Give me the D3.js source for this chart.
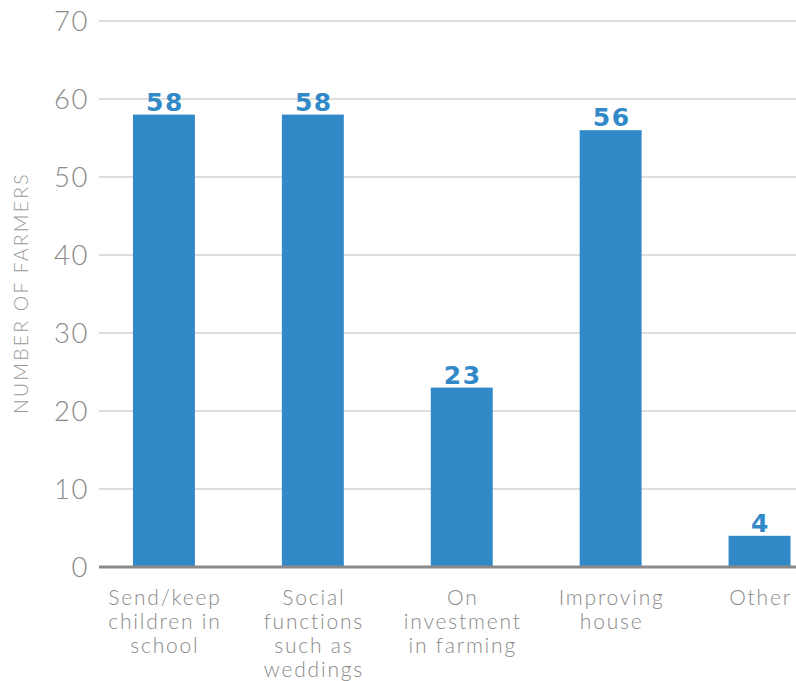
<!DOCTYPE html>
<html>
<head>
<meta charset="utf-8">
<script src="https://cdn.jsdelivr.net/npm/d3@7"></script>
<style>
  html, body { margin: 0; padding: 0; background: #fff; }
  svg { display: block; }
</style>
</head>
<body>
<svg id="chart" width="796" height="681"></svg>
<script>
// Uses of money, by number of farmers
const categories = [
  ["Send/keep", "children in", "school"],
  ["Social", "functions", "such as", "weddings"],
  ["On", "investment", "in farming"],
  ["Improving", "house"],
  ["Other"]
];
const values = [58, 58, 23, 56, 4];
const yTicks = [0, 10, 20, 30, 40, 50, 60, 70];
const yTitle = "NUMBER OF FARMERS";

const svg = d3.select("#chart");
const blue = "#3289c8";
const grey = "#8a8a8a";
const fontFamily = "Lato, 'Open Sans', 'DejaVu Sans', sans-serif";

const plot = { left: 99, right: 796, top: 21, bottom: 567 };

const y = d3.scaleLinear().domain([0, 70]).range([plot.bottom, plot.top]);
const x = d3.scaleBand()
  .domain(d3.range(values.length))
  .range([89.5, 834])
  .paddingInner(0.584)
  .paddingOuter(0.292);

// horizontal gridlines
svg.append("g")
  .selectAll("line")
  .data(yTicks.filter(t => t > 0))
  .join("line")
  .attr("x1", plot.left).attr("x2", plot.right)
  .attr("y1", d => y(d)).attr("y2", d => y(d))
  .attr("stroke", "#d3d3d3").attr("stroke-width", 1.5);

// y tick labels
svg.append("g")
  .selectAll("text")
  .data(yTicks)
  .join("text")
  .attr("x", 89)
  .attr("y", d => y(d))
  .attr("dy", "0.36em")
  .attr("text-anchor", "end")
  .attr("font-family", fontFamily)
  .attr("font-weight", 300)
  .attr("font-size", 27.5)
  .attr("letter-spacing", 1.5)
  .attr("fill", grey)
  .text(d => d);

// y axis title
svg.append("text")
  .attr("transform", `translate(28,293) rotate(-90)`)
  .attr("text-anchor", "middle")
  .attr("font-family", fontFamily)
  .attr("font-weight", 300)
  .attr("font-size", 19.5)
  .attr("letter-spacing", 2.2)
  .attr("fill", "#9a9a9a")
  .text(yTitle);

// bars
svg.append("g")
  .selectAll("rect")
  .data(values)
  .join("rect")
  .attr("x", (d, i) => x(i))
  .attr("width", x.bandwidth())
  .attr("y", d => y(d))
  .attr("height", d => y(0) - y(d))
  .attr("fill", blue);

// value labels
svg.append("g")
  .selectAll("text")
  .data(values)
  .join("text")
  .attr("x", (d, i) => x(i) + x.bandwidth() / 2 + 1)
  .attr("y", d => y(d) - 4)
  .attr("text-anchor", "middle")
  .attr("font-family", "'DejaVu Sans', sans-serif")
  .attr("font-weight", 700)
  .attr("font-size", 25)
  .attr("letter-spacing", 1.5)
  .attr("fill", blue)
  .text(d => d);

// baseline
svg.append("line")
  .attr("x1", plot.left).attr("x2", plot.right)
  .attr("y1", y(0)).attr("y2", y(0))
  .attr("stroke", grey).attr("stroke-width", 3);

// category labels
const cat = svg.append("g")
  .selectAll("text")
  .data(categories)
  .join("text")
  .attr("x", (d, i) => x(i) + x.bandwidth() / 2 + 1)
  .attr("y", 605)
  .attr("text-anchor", "middle")
  .attr("font-family", fontFamily)
  .attr("font-weight", 300)
  .attr("font-size", 21)
  .attr("letter-spacing", 1.8)
  .attr("fill", grey);

cat.selectAll("tspan")
  .data(d => d)
  .join("tspan")
  .attr("x", function () { return d3.select(this.parentNode).attr("x"); })
  .attr("dy", (d, i) => i === 0 ? 0 : 24)
  .text(d => d);
</script>
</body>
</html>
